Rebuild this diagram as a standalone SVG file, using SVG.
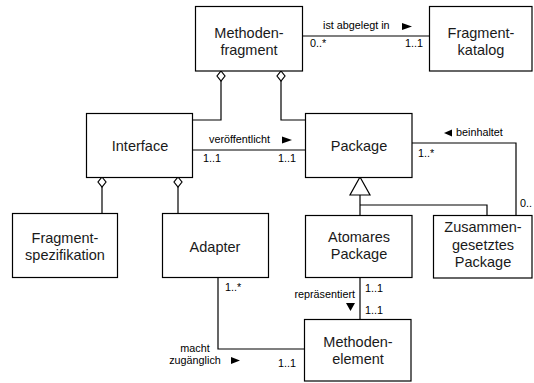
<svg xmlns="http://www.w3.org/2000/svg" width="534" height="383" viewBox="0 0 534 383">
<style>
.box{fill:#fff;stroke:#000;stroke-width:1.2}
.ln{fill:none;stroke:#000;stroke-width:1.2}
.dia{fill:#fff;stroke:#000;stroke-width:1.2}
.t{font-family:"Liberation Sans",Arial,sans-serif;font-size:14.5px;fill:#1a1a1a;text-anchor:middle}
.s{font-family:"Liberation Sans",Arial,sans-serif;font-size:10.8px;fill:#000}
.ar{fill:#000}
</style>
<rect width="534" height="383" fill="#fff"/>
<g id="connectors">
  <line class="ln" x1="302" y1="36" x2="429" y2="36"/>
  <polyline class="ln" points="221,81 221,120 193,120"/>
  <polyline class="ln" points="281,81 281,120 305,120"/>
  <line class="ln" x1="193" y1="150" x2="305" y2="150"/>
  <line class="ln" x1="102" y1="187" x2="102" y2="213"/>
  <line class="ln" x1="178" y1="187" x2="178" y2="213"/>
  <line class="ln" x1="360" y1="195" x2="360" y2="215"/>
  <polyline class="ln" points="360,205 487,205 487,215"/>
  <polyline class="ln" points="412,143 516,143 516,215"/>
  <line class="ln" x1="360" y1="277" x2="360" y2="319"/>
  <polyline class="ln" points="218,277 218,349 304,349"/>
  <path class="dia" d="M221,71 L225,76 L221,81 L217,76 Z"/>
  <path class="dia" d="M281,71 L285,76 L281,81 L277,76 Z"/>
  <path class="dia" d="M102,177 L106,182 L102,187 L98,182 Z"/>
  <path class="dia" d="M178,177 L182,182 L178,187 L174,182 Z"/>
  <path class="dia" d="M360,177 L370,195 L350,195 Z"/>
  <text class="s" x="323" y="29">ist abgelegt in</text>
  <path class="ar" d="M402,23 L412,26.5 L402,30 Z"/>
  <text class="s" x="310" y="47">0..*</text>
  <text class="s" x="405" y="47">1..1</text>
  <text class="s" x="209" y="143">veröffentlicht</text>
  <path class="ar" d="M282,136.5 L292,140 L282,143.5 Z"/>
  <text class="s" x="203" y="162">1..1</text>
  <text class="s" x="278" y="162">1..1</text>
  <path class="ar" d="M452,129.5 L444,133 L452,136.5 Z"/>
  <text class="s" x="456" y="136">beinhaltet</text>
  <text class="s" x="418" y="157">1..*</text>
  <text class="s" x="520" y="207">0..</text>
  <text class="s" x="225" y="291">1..*</text>
  <text class="s" x="355" y="298" text-anchor="end">repräsentiert</text>
  <path class="ar" d="M346,303 L355,303 L350.5,311 Z"/>
  <text class="s" x="365" y="292">1..1</text>
  <text class="s" x="365" y="314">1..1</text>
  <text class="s" x="195" y="352" text-anchor="middle">macht</text>
  <text class="s" x="195" y="364" text-anchor="middle">zugänglich</text>
  <path class="ar" d="M231,357 L240,360.5 L231,364 Z"/>
  <text class="s" x="278" y="367">1..1</text>
</g>
<g id="methodenfragment">
  <rect class="box" x="195.5" y="6.5" width="107" height="64.5"/>
  <text class="t" x="249" y="38">Methoden-</text>
  <text class="t" x="249" y="55">fragment</text>
</g>
<g id="fragmentkatalog">
  <rect class="box" x="429.5" y="6.5" width="102.5" height="64.5"/>
  <text class="t" x="481" y="38">Fragment-</text>
  <text class="t" x="481" y="55">katalog</text>
</g>
<g id="interface">
  <rect class="box" x="86.5" y="113.5" width="106" height="64"/>
  <text class="t" x="140" y="151">Interface</text>
</g>
<g id="package">
  <rect class="box" x="305.5" y="113.5" width="106.5" height="64"/>
  <text class="t" x="359" y="151">Package</text>
</g>
<g id="fragmentspezifikation">
  <rect class="box" x="12.5" y="213.5" width="105" height="64"/>
  <text class="t" x="65" y="243">Fragment-</text>
  <text class="t" x="65" y="260">spezifikation</text>
</g>
<g id="adapter">
  <rect class="box" x="162.5" y="213.5" width="106" height="64"/>
  <text class="t" x="215" y="252">Adapter</text>
</g>
<g id="atomares-package">
  <rect class="box" x="305.5" y="215.5" width="106.5" height="62"/>
  <text class="t" x="359" y="242">Atomares</text>
  <text class="t" x="359" y="259">Package</text>
</g>
<g id="zusammengesetztes-package">
  <rect class="box" x="433.5" y="215.5" width="98.5" height="62.5"/>
  <text class="t" x="483" y="232">Zusammen-</text>
  <text class="t" x="483" y="250">gesetztes</text>
  <text class="t" x="483" y="267">Package</text>
</g>
<g id="methodenelement">
  <rect class="box" x="304.5" y="319.5" width="106.5" height="61.5"/>
  <text class="t" x="358" y="347">Methoden-</text>
  <text class="t" x="358" y="364">element</text>
</g>
</svg>
